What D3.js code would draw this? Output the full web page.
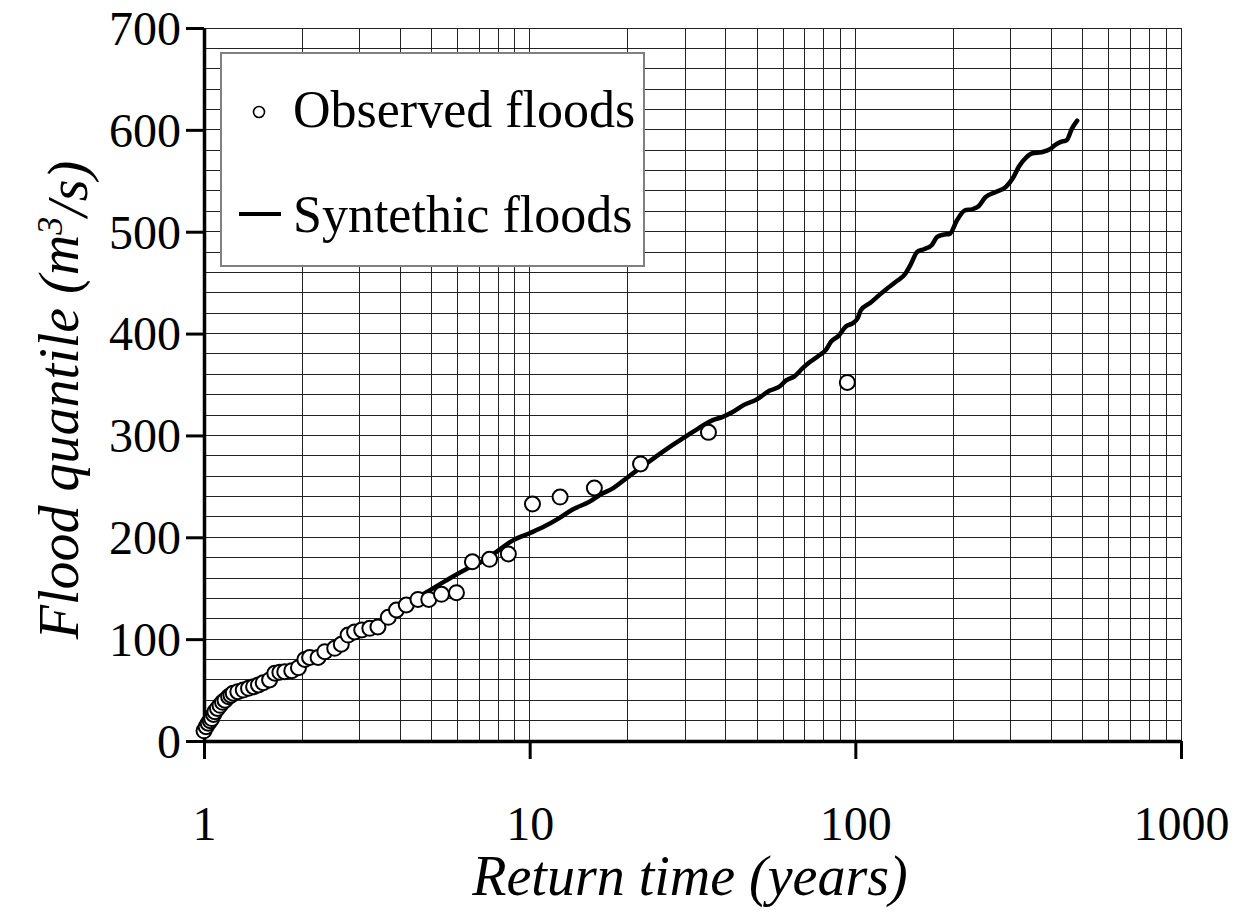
<!DOCTYPE html>
<html>
<head>
<meta charset="utf-8">
<script src="https://cdn.jsdelivr.net/npm/d3@7"></script>
<style>
  html, body { margin: 0; padding: 0; background: #fff; }
  svg { display: block; }
  text { font-family: "Liberation Serif", "Times New Roman", serif; fill: #000; }
</style>
</head>
<body>
<svg id="chart" width="1238" height="912"></svg>
<script>
// ---- data ----
const obsT = [1.0, 1.015, 1.03, 1.045, 1.056, 1.07, 1.08, 1.10, 1.12, 1.14,
  1.16, 1.19, 1.21, 1.23, 1.27, 1.32, 1.37, 1.42, 1.47, 1.52,
  1.59, 1.65, 1.71, 1.77, 1.86, 1.95, 2.04, 2.11, 2.24, 2.35,
  2.52, 2.64, 2.77, 2.90, 3.05, 3.23, 3.42, 3.68, 3.90, 4.18,
  4.54, 4.90, 5.36, 5.96, 6.67, 7.53, 8.6, 10.2, 12.4, 15.8,
  21.9, 35.4, 94.5];
const obsQ = [10, 14, 17.4, 20, 22, 26, 28.8, 32, 35, 38,
  40, 43.5, 45, 47, 48.4, 50, 51.7, 53.3, 55, 57.2,
  60, 66.5, 67.4, 68, 69, 72, 80, 82, 82, 87.7,
  91, 95, 104, 107, 109, 110.6, 112, 121.4, 128.6, 133.5,
  139, 139, 144, 145.6, 176, 178.4, 183.6, 232.7, 239.5, 248.4,
  272, 303, 352];

const synT = [1.0, 1.05, 1.1, 1.2, 1.35, 1.5, 1.75, 2.0, 2.5, 3.0, 3.5, 4.0, 4.6, 5.5, 6.7, 7.03,
  8.0, 8.89, 10.0, 11.0, 12.36, 13.5, 15.28, 16.5, 18.0, 20.0, 23.9, 27.0, 30.2, 33.0, 36.5, 39.0,
  42.0, 45.5, 49.6, 54.6, 58.5, 61.3, 65, 68.9, 72.5, 77, 81.2, 84.2, 89, 93.5, 98, 101.6, 104,
  111, 118.6, 125, 133.3, 142.6, 148, 154.7, 163, 171.8, 178.4, 186, 195, 205, 217, 228, 239,
  251, 270, 290, 305, 318, 335, 350, 372, 396, 410, 426, 446, 462, 480];
const synQ = [8, 20, 30, 43, 52, 58, 68, 76, 92, 106, 118, 130, 142, 157, 172, 175,
  187, 197, 204, 210, 219, 227, 235, 242, 248, 259, 277, 289, 299, 307, 315, 318,
  323, 330, 335, 344, 348, 354, 358, 366, 372, 378, 384, 392, 398, 407, 410, 415, 423,
  430, 438, 444, 451, 459, 468, 480, 483, 487, 495, 497, 498, 511, 521, 522, 525,
  534, 539, 544, 553, 564, 573, 577, 578, 581, 585, 588, 590, 601, 609];

const xTicks = [1, 10, 100, 1000];
const xTickLabels = ["1", "10", "100", "1000"];
const yTicks = [0, 100, 200, 300, 400, 500, 600, 700];
const legendLabels = ["Observed floods", "Syntethic floods"];
const xTitle = "Return time (years)";

// ---- chart ----
const svg = d3.select("#chart");
const x = d3.scaleLog().domain([1, 1000]).range([204, 1181]);
const y = d3.scaleLinear().domain([0, 700]).range([741, 28]);

svg.append("rect").attr("width", 1238).attr("height", 912).attr("fill", "#fff");

// grid
const grid = svg.append("g").attr("stroke", "#222").attr("stroke-width", 1).attr("shape-rendering", "crispEdges");
const vGrid = [];
for (let d = 1; d < 1000; d *= 10) for (let k = 2; k <= 10; k++) vGrid.push(d * k);
grid.selectAll("line.v").data(vGrid).join("line").attr("class", "v")
  .attr("x1", d => x(d)).attr("x2", d => x(d)).attr("y1", y(0)).attr("y2", y(700));
grid.selectAll("line.h").data(d3.range(20, 701, 20)).join("line").attr("class", "h")
  .attr("x1", x(1)).attr("x2", x(1000)).attr("y1", d => y(d)).attr("y2", d => y(d));

// axes
const xAxis = svg.append("g").attr("transform", `translate(0,${y(0)})`)
  .call(d3.axisBottom(x).tickValues(xTicks).tickFormat((d, i) => xTickLabels[i]).tickSize(18).tickSizeOuter(0));
xAxis.select(".domain").attr("stroke", "#000").attr("stroke-width", 3.5);
xAxis.selectAll(".tick line").attr("stroke", "#000").attr("stroke-width", 3);
xAxis.selectAll(".tick text").attr("y", 99).attr("dy", 0).style("font-size", "48px")
  .style("font-family", '"Liberation Serif", "Times New Roman", serif');

const yAxis = svg.append("g").attr("transform", `translate(${x(1)},0)`)
  .call(d3.axisLeft(y).tickValues(yTicks).tickSize(18).tickSizeOuter(0).tickPadding(5));
yAxis.select(".domain").attr("stroke", "#000").attr("stroke-width", 3.5);
yAxis.selectAll(".tick line").attr("stroke", "#000").attr("stroke-width", 3);
yAxis.selectAll(".tick text").attr("dy", "0.34em").style("font-size", "48px")
  .style("font-family", '"Liberation Serif", "Times New Roman", serif');

// synthetic line
const line = d3.line().x((d, i) => x(synT[i])).y((d, i) => y(synQ[i])).curve(d3.curveMonotoneX);
svg.append("path").datum(synQ).attr("d", line).attr("fill", "none")
  .attr("stroke", "#000").attr("stroke-width", 4.5).attr("stroke-linejoin", "round").attr("stroke-linecap", "round");

// observed points
svg.append("g").selectAll("circle").data(obsQ).join("circle")
  .attr("cx", (d, i) => x(obsT[i])).attr("cy", d => y(d)).attr("r", 7.5)
  .attr("fill", "#fff").attr("stroke", "#000").attr("stroke-width", 2);

// legend
const lg = svg.append("g");
lg.append("rect").attr("x", 221).attr("y", 53).attr("width", 423).attr("height", 213)
  .attr("fill", "#fff").attr("stroke", "#808080").attr("stroke-width", 2);
lg.append("circle").attr("cx", 259).attr("cy", 112).attr("r", 5.5)
  .attr("fill", "#fff").attr("stroke", "#000").attr("stroke-width", 1.6);
lg.append("line").attr("x1", 239).attr("x2", 281).attr("y1", 214).attr("y2", 214)
  .attr("stroke", "#000").attr("stroke-width", 4);
lg.selectAll("text").data(legendLabels).join("text")
  .attr("x", 293).attr("y", (d, i) => i === 0 ? 127 : 232)
  .style("font-size", "52px").text(d => d);

// axis titles
svg.append("text").attr("x", 690).attr("y", 895).attr("text-anchor", "middle")
  .style("font-size", "56px").style("font-style", "italic").text(xTitle);

const yt = svg.append("text").attr("transform", "translate(78,400) rotate(-90)")
  .attr("text-anchor", "middle").style("font-size", "56px").style("font-style", "italic");
yt.append("tspan").text("Flood quantile (m");
yt.append("tspan").attr("dy", "-0.45em").style("font-size", "36px").text("3");
yt.append("tspan").attr("dy", "0.45em").text("/s)");
</script>
</body>
</html>
